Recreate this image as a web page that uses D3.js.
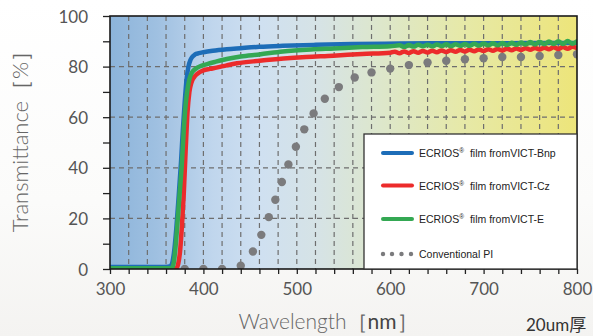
<!DOCTYPE html>
<html><head><meta charset="utf-8">
<script src="https://cdn.jsdelivr.net/npm/d3@7"></script>
<style>
html,body{margin:0;padding:0;background:#fff;}
svg{display:block;}
</style></head>
<body>
<svg id="chart" width="593" height="336"></svg>
<script>
// ---------- data ----------
const xTickValues = [300, 400, 500, 600, 700, 800];
const yTickValues = [0, 20, 40, 60, 80, 100];

const blueWl = [300, 360, 365, 367, 369, 371, 373, 376, 378, 380, 382, 384, 386, 388, 391, 395, 400, 410, 425, 440, 460, 485, 520, 560, 610, 660, 700, 750, 800];
const blueT  = [0.8, 0.8, 1.2, 3, 8, 16, 26, 42, 55, 66, 75, 80, 82.5, 83.8, 84.8, 85.3, 85.7, 86.3, 86.9, 87.3, 87.8, 88.2, 88.6, 88.9, 89.1, 89.2, 89.2, 89.3, 89.3];

const greenWl = [300, 366, 368, 370, 372, 374, 377, 379, 381, 383, 385, 388, 392, 397, 404, 412, 425, 440, 460, 485, 515, 540, 570, 600,
  610, 615, 620, 625, 630, 635, 640, 645, 650, 655, 660, 665, 670, 675, 680, 685, 690, 695, 700, 705, 710, 715, 720, 725, 730, 735, 740, 745, 750, 755, 760, 765, 770, 775, 780, 785, 790, 795, 800];
const greenT = [0.3, 0.3, 2, 8, 17, 27, 42, 55, 65, 71, 75, 77.8, 79.2, 80.2, 81, 81.8, 83, 84, 84.8, 86, 86.8, 87.2, 87.7, 88,
  88.4, 87.8, 88.5, 87.9, 88.6, 88.0, 88.6, 88.0, 88.7, 88.1, 88.8, 88.1, 88.8, 88.2, 88.9, 88.2, 89.0, 88.3, 89.1, 88.4, 89.2, 88.4, 89.3, 88.5, 89.4, 88.6, 89.5, 88.7, 89.7, 88.7, 89.8, 88.8, 89.9, 88.9, 90.0, 88.9, 90.1, 89.0, 90.0];

const redWl = [363, 371, 373, 375, 377, 379, 381, 383, 385, 387, 390, 394, 400, 407, 414, 425, 436, 460, 486, 510, 539, 570, 600,
  605, 610, 615, 620, 625, 630, 635, 640, 645, 650, 655, 660, 665, 670, 675, 680, 685, 690, 695, 700, 705, 710, 715, 720, 725, 730, 735, 740, 745, 750, 755, 760, 765, 770, 775, 780, 785, 790, 795, 800];
const redT = [0, 0.3, 2, 7, 17, 30, 47, 62, 70, 73.5, 75.8, 77.3, 78.5, 79.1, 79.6, 80.5, 81.3, 82.3, 83.2, 83.8, 84.3, 85, 85.5,
  85.9, 85.3, 86.0, 85.4, 86.1, 85.5, 86.2, 85.6, 86.3, 85.7, 86.4, 85.8, 86.5, 85.9, 86.6, 86.0, 86.7, 86.1, 86.8, 86.2, 86.9, 86.3, 87.0, 86.4, 87.1, 86.5, 87.2, 86.6, 87.3, 86.7, 87.4, 86.8, 87.5, 86.9, 87.6, 87.0, 87.7, 87.1, 87.8, 87.3];

const piWl = [360, 380, 400, 420, 440, 453, 462, 470, 477, 484, 491, 499, 508, 518, 530, 545, 562, 580, 600, 620, 640, 660, 680, 700, 720, 740, 760, 780, 800];
const piT  = [0, 0, 0, 0, 1.3, 6.9, 13.5, 20.5, 27.4, 34.4, 41.3, 48.3, 55.2, 61.5, 67.3, 71.9, 75.7, 77.7, 79.2, 80.6, 81.6, 82.3, 82.9, 83.3, 83.8, 83.8, 84.2, 84.6, 84.9];

const legendLabels = ["ECRIOS", "ECRIOS", "ECRIOS", "Conventional PI"];
const legendSuffix = [" film fromVICT-Bnp", " film fromVICT-Cz", " film fromVICT-E", ""];
const colors = {blue: "#1d6db8", red: "#ec2b2b", green: "#34a853", gray: "#7b7b7d"};

// ---------- layout ----------
const svg = d3.select("#chart");
const W = 593, H = 336;
const L = 110, R = 577, T = 16, B = 269;
const x = d3.scaleLinear().domain([300, 800]).range([L, R]);
const y = d3.scaleLinear().domain([0, 100]).range([B, T]);

const defs = svg.append("defs");
const pageGrad = defs.append("linearGradient").attr("id", "pageGrad").attr("x1", 0).attr("y1", 0).attr("x2", 0).attr("y2", 1);
pageGrad.append("stop").attr("offset", "0%").attr("stop-color", "#ffffff");
pageGrad.append("stop").attr("offset", "60%").attr("stop-color", "#fbfbfa");
pageGrad.append("stop").attr("offset", "100%").attr("stop-color", "#f4f3f1");
svg.append("rect").attr("width", W).attr("height", H).attr("fill", "url(#pageGrad)");

const bgGrad = defs.append("linearGradient").attr("id", "bgGrad").attr("x1", 0).attr("y1", 0).attr("x2", 1).attr("y2", 0);
[["0%", "#8cb4da"], ["10%", "#9fc0e1"], ["22%", "#c0d6ed"], ["32%", "#cfe0f1"], ["45%", "#d6e3e5"], ["58%", "#dde7cb"], ["75%", "#e6e9a9"], ["100%", "#ede57a"]]
  .forEach(([o, c]) => bgGrad.append("stop").attr("offset", o).attr("stop-color", c));

svg.append("rect").attr("x", L).attr("y", T).attr("width", R - L).attr("height", B - T).attr("fill", "url(#bgGrad)");

defs.append("clipPath").attr("id", "plotClip").append("rect").attr("x", L).attr("y", T).attr("width", R - L).attr("height", B - T);

// grid
const grid = svg.append("g").attr("stroke", "#6e6e6e").attr("stroke-width", 1.2).attr("stroke-dasharray", "5,4");
d3.range(320, 800, 20).forEach(v => {
  grid.append("line").attr("x1", x(v)).attr("x2", x(v)).attr("y1", T).attr("y2", B);
});
[20, 40, 60, 80].forEach(v => {
  grid.append("line").attr("x1", L).attr("x2", R).attr("y1", y(v)).attr("y2", y(v));
});

// series
const plot = svg.append("g").attr("clip-path", "url(#plotClip)");
plot.selectAll("circle.pi").data(piWl.map((w, i) => [w, piT[i]])).enter().append("circle")
  .attr("class", "pi").attr("cx", d => x(d[0])).attr("cy", d => y(d[1])).attr("r", 4.2).attr("fill", colors.gray);

const line = d3.line().x(d => x(d[0])).y(d => y(d[1])).curve(d3.curveMonotoneX);
function drawSeries(wl, t, col) {
  plot.append("path").datum(wl.map((w, i) => [w, t[i]])).attr("d", line)
    .attr("fill", "none").attr("stroke", col).attr("stroke-width", 4.5).attr("stroke-linejoin", "round").attr("stroke-linecap", "round");
}
drawSeries(blueWl, blueT, colors.blue);
drawSeries(redWl, redT, colors.red);
drawSeries(greenWl, greenT, colors.green);

// axes
const tickFont = "Lato, 'Noto Sans', sans-serif";
const xAxis = d3.axisBottom(x).tickValues(d3.range(300, 801, 20)).tickSize(5).tickFormat(d => xTickValues.includes(d) ? d : "");
const gx = svg.append("g").attr("transform", `translate(0,${B})`).call(xAxis);
gx.select(".domain").remove();
gx.selectAll(".tick line").attr("stroke", "#222").attr("stroke-width", 1.3);
gx.selectAll(".tick text").attr("font-family", tickFont).attr("font-size", 17).attr("fill", "#555").attr("dy", "1.05em");

const yAxis = d3.axisLeft(y).tickValues(d3.range(0, 101, 10)).tickSize(7).tickFormat(d => yTickValues.includes(d) ? d : "");
const gy = svg.append("g").attr("transform", `translate(${L},0)`).call(yAxis);
gy.select(".domain").remove();
gy.selectAll(".tick line").attr("stroke", "#222").attr("stroke-width", 1.3);
gy.selectAll(".tick text").attr("font-family", tickFont).attr("font-size", 17).attr("fill", "#555").attr("x", -22).attr("dy", "0.36em");

// frame
svg.append("rect").attr("x", L).attr("y", T).attr("width", R - L).attr("height", B - T)
  .attr("fill", "none").attr("stroke", "#1a1a1a").attr("stroke-width", 1.6);

// legend
const lg = svg.append("g");
lg.append("rect").attr("x", 364).attr("y", 134).attr("width", R - 364).attr("height", B - 134)
  .attr("fill", "#ffffff").attr("stroke", "#333").attr("stroke-width", 1.3);
const legendColors = [colors.blue, colors.red, colors.green, colors.gray];
const legendY = [153, 185.5, 219, 254];
legendLabels.forEach((lab, i) => {
  const yy = legendY[i];
  if (i < 3) {
    lg.append("line").attr("x1", 383).attr("x2", 412).attr("y1", yy).attr("y2", yy)
      .attr("stroke", legendColors[i]).attr("stroke-width", 4).attr("stroke-linecap", "round");
  } else {
    [383, 392, 401.5, 411].forEach(cx => lg.append("circle").attr("cx", cx).attr("cy", yy).attr("r", 2.2).attr("fill", colors.gray));
  }
  const t = lg.append("text").attr("x", 419).attr("y", yy + 4).attr("font-family", "'Liberation Sans', Arial, sans-serif")
    .attr("font-size", 10.5).attr("fill", "#222").attr("xml:space", "preserve");
  t.append("tspan").text(lab);
  if (i < 3) {
    t.append("tspan").attr("font-size", 6.5).attr("dy", -4).text("®");
    t.append("tspan").attr("dy", 4).text(" " + legendSuffix[i]);
  }
});

// titles
svg.append("text").attr("transform", "translate(28,136) rotate(-90)").attr("text-anchor", "middle")
  .attr("font-family", tickFont).attr("font-weight", 300).attr("font-size", 22).attr("fill", "#666")
  .text("Transmittance［%］");
const xt = svg.append("text").attr("x", 328).attr("y", 329).attr("text-anchor", "middle")
  .attr("font-family", tickFont).attr("font-weight", 300).attr("font-size", 21).attr("fill", "#666");
xt.append("tspan").text("Wavelength［");
xt.append("tspan").attr("font-weight", 400).attr("fill", "#444").text("nm");
xt.append("tspan").text("］");
svg.append("text").attr("x", 526).attr("y", 331).attr("font-family", tickFont + ", 'Noto Sans CJK JP'")
  .attr("font-size", 17).attr("fill", "#333").text("20um厚");
</script>
</body></html>
